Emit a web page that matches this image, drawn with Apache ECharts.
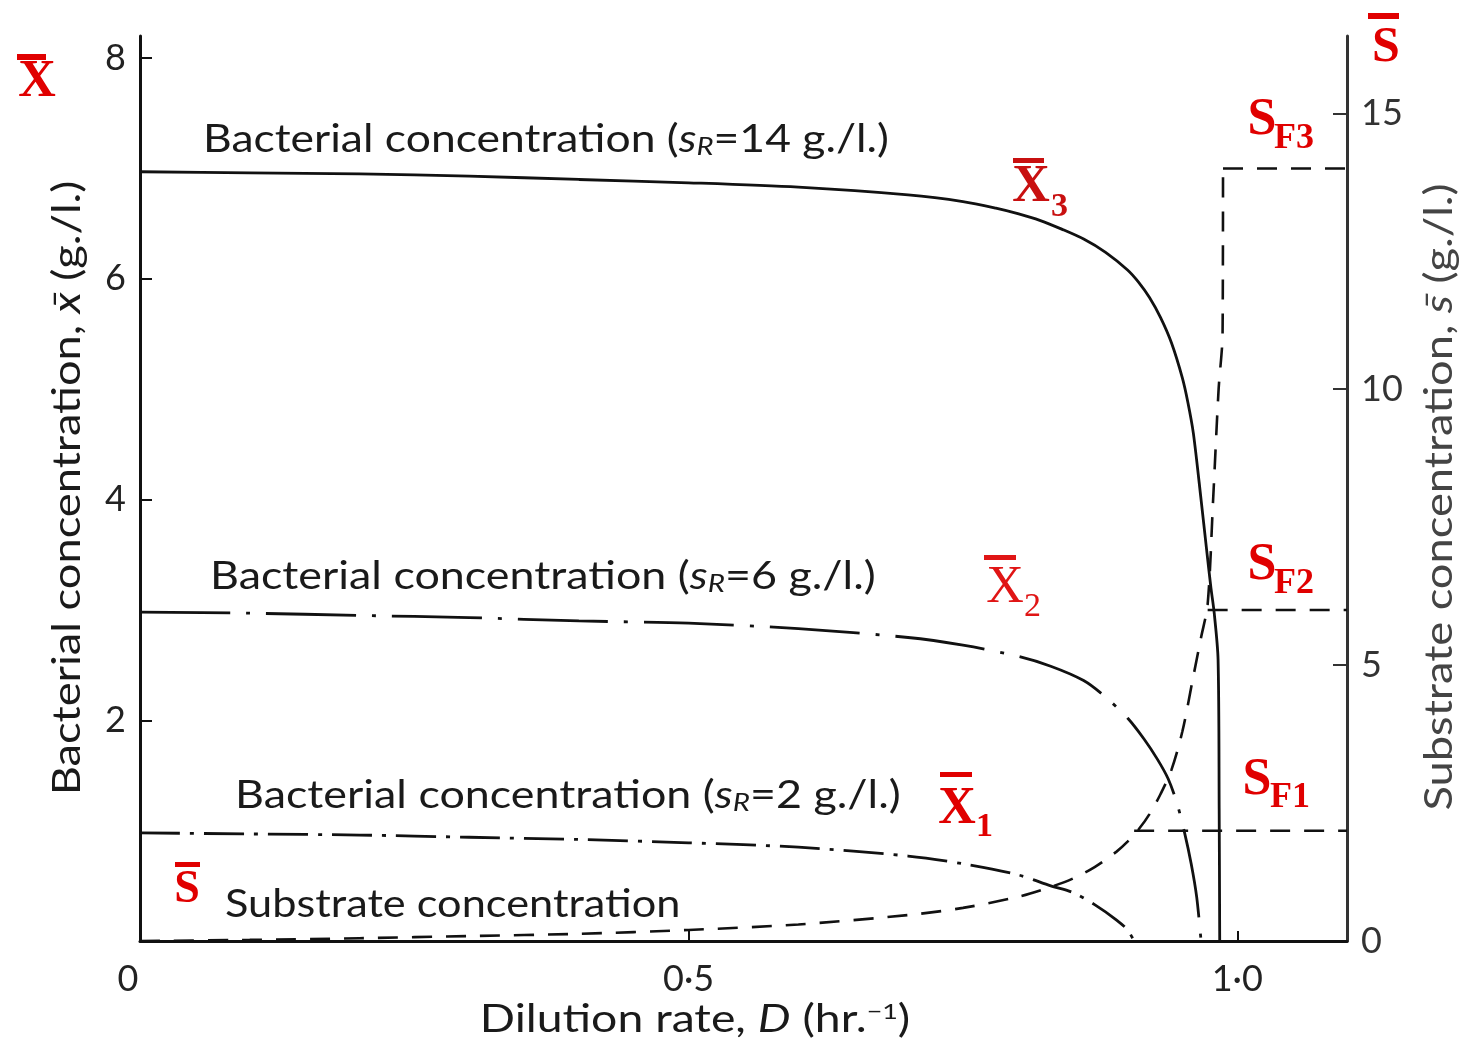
<!DOCTYPE html>
<html>
<head>
<meta charset="utf-8">
<script src="https://cdn.jsdelivr.net/npm/echarts@6/dist/echarts.min.js"></script>
<style>
  html, body { margin: 0; padding: 0; background: #ffffff; }
  #chart { width: 1472px; height: 1045px; }
</style>
</head>
<body>
<div id="chart"></div>
<script>
// Steady-state chemostat: bacterial and substrate concentration against dilution rate D (hr^-1)

// Axis ticks and their labels
const xTicks = [0, 0.5, 1.0];
const xTickLabels = ['{z|0}', '0·5', '1·0'];
const leftTicks = [2, 4, 6, 8];
const rightTicks = [0, 5, 10, 15];

// Bacterial concentration x (g./l.), pairs of [D, x]
const bacteria14 = [
  [0, 6.97], [0.1, 6.96], [0.2, 6.95], [0.3, 6.93], [0.4, 6.9], [0.5, 6.87],
  [0.6, 6.83], [0.7, 6.76], [0.75, 6.7], [0.78, 6.64], [0.8, 6.59], [0.82, 6.53],
  [0.84, 6.45], [0.86, 6.36], [0.88, 6.24], [0.9, 6.08], [0.91, 5.97], [0.92, 5.83],
  [0.93, 5.65], [0.94, 5.42], [0.95, 5.1], [0.955, 4.88], [0.96, 4.6], [0.967, 4.0],
  [0.972, 3.55], [0.976, 3.2], [0.979, 2.97], [0.9825, 2.55], [0.9835, 1.2], [0.984, 0]
];
const bacteria6 = [
  [0, 2.98], [0.1, 2.97], [0.2, 2.95], [0.3, 2.93], [0.4, 2.9], [0.5, 2.88],
  [0.6, 2.83], [0.7, 2.75], [0.75, 2.68], [0.8, 2.58], [0.83, 2.49], [0.86, 2.36],
  [0.88, 2.21], [0.9, 2.02], [0.915, 1.83], [0.927, 1.65], [0.937, 1.47], [0.945, 1.25],
  [0.952, 0.98], [0.958, 0.7], [0.963, 0.4], [0.967, 0]
];
const bacteria2 = [
  [0, 0.98], [0.1, 0.97], [0.2, 0.96], [0.3, 0.94], [0.4, 0.92], [0.5, 0.89],
  [0.6, 0.85], [0.7, 0.77], [0.75, 0.7], [0.8, 0.6], [0.83, 0.5], [0.85, 0.44],
  [0.87, 0.33], [0.89, 0.19], [0.9, 0.1], [0.906, 0]
];

// Substrate concentration s (g./l.), pairs of [D, s]
const substrate = [
  [0, 0], [0.1, 0.02], [0.2, 0.05], [0.3, 0.09], [0.4, 0.13], [0.5, 0.2],
  [0.6, 0.3], [0.7, 0.47], [0.75, 0.6], [0.8, 0.8], [0.83, 0.98], [0.85, 1.13],
  [0.87, 1.34], [0.89, 1.62], [0.9, 1.8], [0.91, 2.02], [0.92, 2.3], [0.93, 2.66],
  [0.94, 3.1], [0.95, 3.8], [0.96, 4.8], [0.967, 5.5], [0.973, 6.1], [0.978, 8.0],
  [0.983, 10.0], [0.9866, 11.0], [0.987, 14]
];
// Substrate after wash-out equals the feed concentration s_R
const feed2 = [[0.906, 2], [1.1, 2]];
const feed6 = [[0.973, 6], [1.1, 6]];
const feed14 = [[0.987, 14], [1.1, 14]];

const TEXT_FONT = 'Lato, "Open Sans", sans-serif';
const RED_FONT = '"Liberation Serif", "Times New Roman", serif';

const chart = echarts.init(document.getElementById('chart'), null, { renderer: 'canvas' });

function curve(data, yAxisIndex, dash, width) {
  return {
    type: 'line',
    data: data,
    xAxisIndex: 0,
    yAxisIndex: yAxisIndex,
    symbol: 'none',
    showSymbol: false,
    smooth: 0.3,
    silent: true,
    lineStyle: { color: '#111', width: width, type: dash }
  };
}

function flat(data) {
  return {
    type: 'line', data: data, xAxisIndex: 0, yAxisIndex: 1,
    symbol: 'none', showSymbol: false, silent: true,
    lineStyle: { color: '#111', width: 2.5, type: [20, 14] }
  };
}

// Red barred symbol (X̄, S̄ ...) with optional subscript
function barred(o) {
  const children = [
    {
      type: 'text', x: o.x, y: o.y,
      style: {
        text: o.letter, fill: o.color || '#e00000',
        font: (o.weight || 'bold') + ' ' + o.size + 'px ' + RED_FONT,
        align: 'center', verticalAlign: 'middle'
      }
    }
  ];
  if (o.bar) {
    children.push({
      type: 'rect',
      shape: { x: o.bar[0], y: o.bar[1], width: o.bar[2], height: o.bar[3] },
      style: { fill: o.color || '#e00000' }
    });
  }
  if (o.sub) {
    children.push({
      type: 'text', x: o.subX, y: o.subY,
      style: {
        text: o.sub, fill: o.color || '#e00000',
        font: (o.weight || 'bold') + ' ' + o.subSize + 'px ' + RED_FONT,
        align: 'left', verticalAlign: 'middle'
      }
    });
  }
  return { type: 'group', silent: true, children: children };
}

// Black sans label, stretched horizontally like the printed lettering
function blackLabel(text, x, y, stretch) {
  return {
    type: 'text', x: x, y: y, scaleX: stretch, silent: true,
    style: {
      text: text,
      fill: '#1a1a1a',
      fontFamily: TEXT_FONT,
      fontSize: 38,
      align: 'left',
      verticalAlign: 'middle',
      rich: {
        s: { fontFamily: TEXT_FONT, fontSize: 38, fontStyle: 'italic', fill: '#1a1a1a' },
        r: { fontFamily: TEXT_FONT, fontSize: 25, fontStyle: 'italic', fill: '#1a1a1a', verticalAlign: 'bottom', lineHeight: 18 }
      }
    }
  };
}

function axisTitle(text, x, y, rotation, stretch, color) {
  return {
    type: 'text', x: x, y: y, rotation: rotation, scaleX: stretch, silent: true,
    style: {
      text: text,
      fill: color, fontFamily: TEXT_FONT, fontSize: 38,
      align: 'center', verticalAlign: 'middle',
      rich: {
        i: { fontFamily: TEXT_FONT, fontSize: 38, fontStyle: 'italic', fill: color },
        sup: { fontFamily: TEXT_FONT, fontSize: 22, fill: color, verticalAlign: 'top', lineHeight: 16 }
      }
    }
  };
}

const option = {
  backgroundColor: '#ffffff',
  animation: false,
  grid: { left: 140, right: 125, top: 36, bottom: 104, containLabel: false },
  xAxis: {
    type: 'value', min: 0, max: 1.1, interval: 0.5,
    axisLine: { show: true, lineStyle: { color: '#111', width: 3 } },
    axisTick: { show: true, inside: true, length: 10, customValues: [0.5, 1.0], lineStyle: { color: '#111', width: 2 } },
    axisLabel: {
      customValues: xTicks,
      formatter: v => xTickLabels[xTicks.indexOf(v)] || '',
      margin: 20, fontSize: 36, color: '#222', fontFamily: TEXT_FONT,
      rich: { z: { fontSize: 36, fontFamily: TEXT_FONT, color: '#222', padding: [0, 24, 0, 0] } }
    },
    splitLine: { show: false }
  },
  yAxis: [
    {
      type: 'value', min: 0, max: 8.2, interval: 2, position: 'left',
      axisLine: { show: true, lineStyle: { color: '#111', width: 3 } },
      axisTick: { show: true, inside: true, length: 12, customValues: leftTicks, lineStyle: { color: '#111', width: 2 } },
      axisLabel: { customValues: leftTicks, margin: 14, fontSize: 36, color: '#222', fontFamily: TEXT_FONT },
      splitLine: { show: false }
    },
    {
      type: 'value', min: 0, max: 16.4, interval: 5, position: 'right',
      axisLine: { show: true, lineStyle: { color: '#333', width: 3 } },
      axisTick: { show: true, inside: true, length: 14, customValues: [5, 10, 15], lineStyle: { color: '#333', width: 2 } },
      axisLabel: { customValues: rightTicks, margin: 14, fontSize: 36, color: '#333', fontFamily: TEXT_FONT },
      splitLine: { show: false }
    }
  ],
  series: [
    curve(bacteria14, 0, 'solid', 2.8),
    curve(bacteria6, 0, [90, 16, 4, 16], 2.8),
    curve(bacteria2, 0, [40, 10, 4, 10], 2.8),
    curve(substrate, 1, [20, 14], 2.6),
    flat(feed2),
    flat(feed6),
    flat(feed14)
  ],
  graphic: [
    // axis titles
    axisTitle('Bacterial concentration, {i|x\u0304} (g./l.)', 68, 488, Math.PI / 2, 1.19, '#1a1a1a'),
    axisTitle('Substrate concentration, {i|s\u0304} (g./l.)', 1440, 497, Math.PI / 2, 1.19, '#444'),
    axisTitle('Dilution rate, {i|D} (hr.{sup|\u22121})', 695, 1020, 0, 1.22, '#1a1a1a'),
    // curve labels
    blackLabel('Bacterial concentration ({s|s}{r|R}=14 g./l.)', 203, 140, 1.17),
    blackLabel('Bacterial concentration ({s|s}{r|R}=6 g./l.)', 210, 577, 1.18),
    blackLabel('Bacterial concentration ({s|s}{r|R}=2 g./l.)', 235, 796, 1.18),
    blackLabel('Substrate concentration', 225, 905, 1.14),
    // red symbols
    barred({ letter: 'X', x: 37, y: 83, size: 52, bar: [17, 54, 29, 6] }),
    barred({ letter: 'S', x: 1386, y: 48, size: 50, bar: [1368, 13, 31, 6] }),
    barred({ letter: 'S', x: 1262, y: 121, size: 52, sub: 'F3', subX: 1274, subY: 139, subSize: 36 }),
    barred({ letter: 'S', x: 1262, y: 566, size: 52, sub: 'F2', subX: 1274, subY: 584, subSize: 36 }),
    barred({ letter: 'S', x: 1257, y: 781, size: 52, sub: 'F1', subX: 1270, subY: 798, subSize: 36 }),
    barred({ letter: 'X', x: 1031, y: 188, size: 52, color: '#c81010', bar: [1013, 158, 31, 5], sub: '3', subX: 1051, subY: 207, subSize: 34 }),
    barred({ letter: 'X', x: 1005, y: 588, size: 52, weight: 'normal', color: '#e01515', bar: [984, 555, 32, 5], sub: '2', subX: 1024, subY: 607, subSize: 34 }),
    barred({ letter: 'X', x: 957, y: 810, size: 52, bar: [940, 772, 32, 5], sub: '1', subX: 976, subY: 827, subSize: 34 }),
    barred({ letter: 'S', x: 187, y: 890, size: 46, bar: [175, 862, 25, 5] })
  ]
};

chart.setOption(option);
</script>
</body>
</html>
